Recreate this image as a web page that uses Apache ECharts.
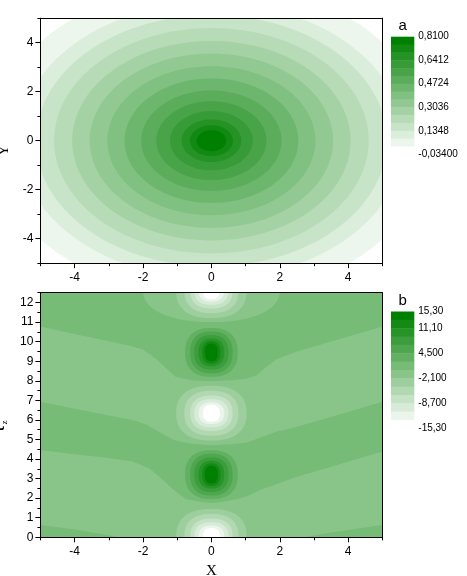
<!DOCTYPE html>
<html><head><meta charset="utf-8">
<script src="https://cdn.jsdelivr.net/npm/echarts@6/dist/echarts.min.js"></script>
<style>html,body{margin:0;padding:0;background:#fff}#c{width:467px;height:576px}</style>
</head><body><div id="c"></div>
<script>
// ---------- Panel a : concentric contour rings (radius of outer edge of each band) ----------
const centerA = [0, 0];
const ringRadiusA = [6.42, 5.63, 5.13, 4.60, 4.07, 3.56, 3.04, 2.54, 2.05, 1.61, 1.21, 0.87, 0.63, 0.43];
const ringBandA   = [13, 12, 11, 10, 9, 8, 7, 6, 5, 4, 3, 2, 1, 0];
const bandCountA = 15;
const cbTicksA  = [0, 3, 6, 9, 12, 15];
const cbLabelsA = ['-0,03400', '0,1348', '0,3036', '0,4724', '0,6412', '0,8100'];
const xMajor = [-4, -2, 0, 2, 4];
const xMinor = [-5, -3, -1, 1, 3, 5];
const yMajorA = [-4, -2, 0, 2, 4];
const yMinorA = [-5, -3, -1, 1, 3, 5];

// ---------- Panel b ----------
const bandCountB = 14;
const bgBandB = 7;      // light background band
const darkBandB = 6;    // darker background band
// boundary curves of the darker background bands  [x, tau]
const b4X = [-5, -4, -3, -2.45, -2.0, -1.6, -1.3, -1.05, -0.6, 0, 0.6, 1.05, 1.33, 1.6, 1.9, 2.5, 3.5, 5];
const b4T = [10.77, 10.39, 10.02, 9.82, 9.6, 9.1, 8.6, 8.2, 8.02, 7.98, 8.02, 8.12, 8.3, 8.7, 9.1, 9.5, 10.0, 10.77];
const b3X = [-5, -4, -3, -2.3, -1.9, -1.5, -1.1, -0.6, 0, 0.6, 1.05, 1.5, 1.9, 2.5, 3.5, 5];
const b3T = [6.93, 6.57, 6.23, 6.0, 5.75, 5.35, 4.97, 4.78, 4.72, 4.75, 4.85, 5.14, 5.4, 5.65, 6.15, 6.93];
const b2X = [-5, -4, -3, -2.3, -1.8, -1.4, -1.1, -0.75, 0, 0.75, 1.05, 1.4, 1.75, 2.5, 3.5, 5];
const b2T = [4.46, 4.25, 4.05, 3.87, 3.5, 2.9, 2.42, 1.95, 1.75, 1.95, 2.1, 2.4, 2.62, 3.1, 3.6, 4.38];
const b1LX = [-5, -4, -3, -2.75];
const b1LT = [0.63, 0.4, 0.1, 0];
const b1RX = [2.7, 3.5, 4.5, 5];
const b1RT = [0, 0.25, 0.5, 0.63];
// blobs at x = 0
const whiteCenters = [0.05, 6.34, 12.6];
const whiteOuterRx = [1.6, 1.15, 2.0];
const whiteOuterRy = [1.55, 1.62, 1.6];
const whiteRx = [1.03, 0.79, 0.62, 0.50, 0.375, 0.25];
const whiteRy = [1.40, 1.15, 0.91, 0.72, 0.55, 0.43];
const whiteBands = [8, 9, 10, 11, 12, 13];
const darkCenters = [3.2, 9.45];
const darkRx = [1.01, 0.77, 0.62, 0.50, 0.375, 0.27, 0.19];
const darkRy = [1.42, 1.25, 1.07, 0.88, 0.71, 0.58, 0.46];
const darkBands = [6, 5, 4, 3, 2, 1, 0];
const cbTicksB  = [0, 3, 6, 9, 12, 14];
const cbLabelsB = ['-15,30', '-8,700', '-2,100', '4,500', '11,10', '15,30'];
const yMajorB = [0,1,2,3,4,5,6,7,8,9,10,11,12];
const yMinorB = [0.5,1.5,2.5,3.5,4.5,5.5,6.5,7.5,8.5,9.5,10.5,11.5,12.5];

// ---------- helpers ----------
function bandColor(i, n) {
  const t = i / (n - 1);
  const r = Math.round(255 * t), g = Math.round(128 + 127 * t);
  return 'rgb(' + r + ',' + g + ',' + r + ')';
}
const FONT = 'Liberation Sans';
const SERIF = 'Liberation Serif';

function ringRender(nBands) {
  return function (params, api) {
    const cx = api.value(0), cy = api.value(1), rx = api.value(2), ry = api.value(3);
    const band = api.value(4), p = api.value(5);
    const pts = [];
    const N = 120;
    for (let k = 0; k < N; k++) {
      const a = k / N * 2 * Math.PI;
      const c = Math.cos(a), s = Math.sin(a);
      const px = cx + rx * Math.sign(c) * Math.pow(Math.abs(c), 2 / p);
      const py = cy + ry * Math.sign(s) * Math.pow(Math.abs(s), 2 / p);
      pts.push(api.coord([px, py]));
    }
    const cs = params.coordSys;
    return {
      type: 'polygon',
      shape: { points: echarts.graphic.clipPointsByRect(pts, { x: cs.x, y: cs.y, width: cs.width, height: cs.height }) },
      style: { fill: bandColor(band, nBands), stroke: null }
    };
  };
}

// panel a data
const dataA = ringRadiusA.map((r, i) => [centerA[0], centerA[1], r, r, ringBandA[i], 2]);

// panel b: dark band polygons
const yMaxB = 12.5, yMinB = 0, xMinB = -5, xMaxB = 5;
function curve(xs, ts) { return xs.map((x, i) => [x, ts[i]]); }
const polysB = [
  [[xMinB, yMaxB], [xMaxB, yMaxB]].concat(curve(b4X, b4T).reverse()),
  curve(b3X, b3T).concat(curve(b2X, b2T).reverse()),
  [[xMinB, yMinB]].concat(curve(b1LX, b1LT)),
  curve(b1RX, b1RT).concat([[xMaxB, yMinB]])
];
const polyDataB = polysB.map((p, i) => [0, 0, i]);

const blobDataB = [];
whiteCenters.forEach((c, j) => {
  blobDataB.push([0, c, whiteOuterRx[j], whiteOuterRy[j], bgBandB, 2.2]);
  whiteRx.forEach((rx, i) => blobDataB.push([0, c, rx, whiteRy[i], whiteBands[i], 2.4]));
});
darkCenters.forEach((c) => {
  darkRx.forEach((rx, i) => blobDataB.push([0, c, rx, darkRy[i], darkBands[i], 2.4]));
});

// colorbar data
const cbDataA = [];
for (let i = 0; i < bandCountA; i++) cbDataA.push([0, i, i]);
const cbDataB = [];
for (let i = 0; i < bandCountB; i++) cbDataB.push([0, i, i]);

function cbRender(nBands) {
  return function (params, api) {
    const idx = api.value(2);          // band counted from the top
    const p0 = api.coord([0, nBands - idx]);
    const p1 = api.coord([1, nBands - idx - 1]);
    return { type: 'rect', shape: { x: p0[0], y: p0[1], width: p1[0] - p0[0], height: p1[1] - p0[1] + 0.5 },
             style: { fill: bandColor(idx, nBands) } };
  };
}

// ---------- axes ----------
function mainAxis(grid, pos, min, max, major, extra) {
  return Object.assign({
    gridIndex: grid, type: 'value', position: pos, min: min, max: max, z: 5,
    axisLine: { show: true, onZero: false, lineStyle: { color: '#000', width: 1 } },
    axisTick: { show: true, inside: false, length: 5, customValues: major, lineStyle: { color: '#000' } },
    axisLabel: { show: true, customValues: major, color: '#000', fontSize: 12, fontFamily: FONT, margin: 8 },
    splitLine: { show: false }
  }, extra || {});
}
function minorAxis(grid, pos, min, max, minor) {
  return {
    gridIndex: grid, type: 'value', position: pos, min: min, max: max, z: 5,
    axisLine: { show: false, onZero: false },
    axisTick: { show: true, inside: false, length: 3, customValues: minor, lineStyle: { color: '#000' } },
    axisLabel: { show: false }, splitLine: { show: false }
  };
}
function frameAxis(grid, pos, min, max) {
  return {
    gridIndex: grid, type: 'value', position: pos, min: min, max: max, z: 5,
    axisLine: { show: true, onZero: false, lineStyle: { color: '#000', width: 1 } },
    axisTick: { show: false }, axisLabel: { show: false }, splitLine: { show: false }
  };
}
function cbXAxis(grid, name) {
  return {
    gridIndex: grid, type: 'value', position: 'top', min: 0, max: 1,
    axisLine: { show: false, onZero: false }, axisTick: { show: false }, axisLabel: { show: false }, splitLine: { show: false },
    name: name, nameLocation: 'middle', nameGap: 3,
    nameTextStyle: { fontFamily: FONT, fontSize: 15, color: '#000' }
  };
}
function cbYAxis(grid, n, ticks, labels) {
  return {
    gridIndex: grid, type: 'value', position: 'right', min: 0, max: n,
    axisLine: { show: false, onZero: false }, axisTick: { show: false }, splitLine: { show: false },
    axisLabel: { show: true, customValues: ticks, margin: 4, color: '#000', fontSize: 10, fontFamily: FONT,
      formatter: function (v) { const k = ticks.indexOf(v); return k >= 0 ? labels[k] : ''; } }
  };
}

const option = {
  animation: false,
  backgroundColor: '#fff',
  grid: [
    { left: 40.4, top: 18.2, width: 342, height: 245, outerBoundsMode: 'none', containLabel: false },
    { left: 40.4, top: 292.7, width: 342, height: 244.6, outerBoundsMode: 'none', containLabel: false,
      show: true, backgroundColor: bandColor(bgBandB, bandCountB), borderWidth: 0 },
    { left: 391, top: 36.7, width: 23.3, height: 117.6, outerBoundsMode: 'none', containLabel: false },
    { left: 391, top: 311.5, width: 23.3, height: 116.8, outerBoundsMode: 'none', containLabel: false }
  ],
  xAxis: [
    mainAxis(0, 'bottom', -5, 5, xMajor),
    minorAxis(0, 'bottom', -5, 5, xMinor),
    frameAxis(0, 'top', -5, 5),
    mainAxis(1, 'bottom', -5, 5, xMajor, { name: 'X', nameLocation: 'middle', nameGap: 26,
      nameTextStyle: { fontFamily: SERIF, fontSize: 15, color: '#000' } }),
    minorAxis(1, 'bottom', -5, 5, xMinor),
    frameAxis(1, 'top', -5, 5),
    cbXAxis(2, 'a'),
    cbXAxis(3, 'b')
  ],
  yAxis: [
    mainAxis(0, 'left', -5, 5, yMajorA, { name: 'Y', nameLocation: 'middle', nameGap: 23, nameRotate: 90,
      axisLabel: { show: true, customValues: yMajorA, color: '#000', fontSize: 12, fontFamily: FONT, margin: 7 },
      nameTextStyle: { fontFamily: SERIF, fontSize: 15, color: '#000', padding: [0, 20, 0, 0] } }),
    minorAxis(0, 'left', -5, 5, yMinorA),
    frameAxis(0, 'right', -5, 5),
    mainAxis(1, 'left', 0, 12.5, yMajorB, { name: 'τ{s|z}', nameLocation: 'middle', nameGap: 22, nameRotate: 90,
      axisLabel: { show: true, customValues: yMajorB, color: '#000', fontSize: 12, fontFamily: FONT, margin: 7 },
      nameTextStyle: { color: '#000', fontFamily: SERIF, fontSize: 22, padding: [0, 24, 0, 0], rich: {
        s: { fontFamily: SERIF, fontSize: 9, color: '#000', verticalAlign: 'bottom', lineHeight: 22 } } } }),
    minorAxis(1, 'left', 0, 12.5, yMinorB),
    frameAxis(1, 'right', 0, 12.5),
    cbYAxis(2, bandCountA, cbTicksA, cbLabelsA),
    cbYAxis(3, bandCountB, cbTicksB, cbLabelsB)
  ],
  series: [
    { type: 'custom', name: 'a', xAxisIndex: 0, yAxisIndex: 0, clip: true, silent: true,
      renderItem: ringRender(bandCountA), data: dataA, encode: { x: 0, y: 1 } },
    { type: 'custom', name: 'bBands', xAxisIndex: 3, yAxisIndex: 3, clip: true, silent: true,
      renderItem: function (params, api) {
        const poly = polysB[api.value(2)];
        return { type: 'polygon', shape: { points: poly.map(p => api.coord(p)) },
                 style: { fill: bandColor(darkBandB, bandCountB) } };
      }, data: polyDataB, encode: { x: 0, y: 1 } },
    { type: 'custom', name: 'bBlobs', xAxisIndex: 3, yAxisIndex: 3, clip: true, silent: true,
      renderItem: ringRender(bandCountB), data: blobDataB, encode: { x: 0, y: 1 } },
    { type: 'custom', name: 'cbA', xAxisIndex: 6, yAxisIndex: 6, silent: true,
      renderItem: cbRender(bandCountA), data: cbDataA, encode: { x: 0, y: 1 } },
    { type: 'custom', name: 'cbB', xAxisIndex: 7, yAxisIndex: 7, silent: true,
      renderItem: cbRender(bandCountB), data: cbDataB, encode: { x: 0, y: 1 } }
  ]
};
const chart = echarts.init(document.getElementById('c'), null, { renderer: 'canvas' });
chart.setOption(option);
</script>
</body></html>
